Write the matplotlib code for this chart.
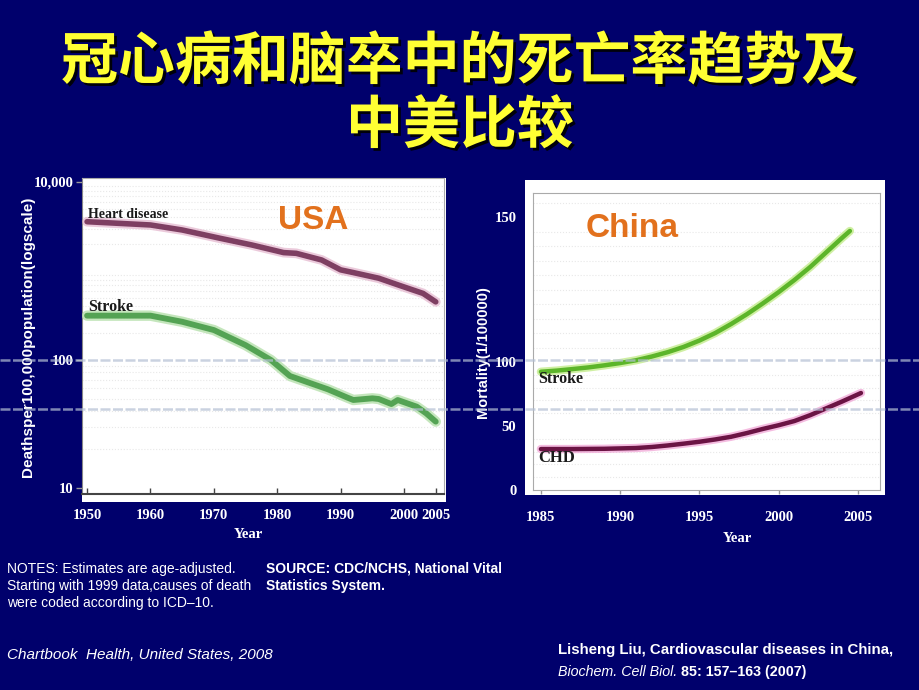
import numpy as np
import matplotlib
matplotlib.use("Agg")
import matplotlib.pyplot as plt
from matplotlib.patches import Rectangle
from matplotlib.lines import Line2D
import matplotlib.patheffects as pe

# ---------------- data ----------------
usa_heart_years = [1950, 1960, 1965, 1971, 1976, 1981, 1983, 1987, 1990, 1992, 1996, 1999, 2003, 2005]
usa_heart = [3580, 3290, 2890, 2330, 1960, 1610, 1580, 1330, 1030, 960, 830, 700, 560, 450]
usa_stroke_years = [1950, 1960, 1965, 1970, 1975, 1979, 1982, 1985, 1988, 1991, 1992, 1995, 1996,
                    1998, 1999, 2002, 2003.5, 2005]
usa_stroke = [315, 315, 269, 217, 147, 100, 75, 66.5, 59, 51, 48.7, 50.2, 49.6, 45.3, 48.7, 43.2, 38.3, 33]
usa_xticks = [1950, 1960, 1970, 1980, 1990, 2000, 2005]
usa_yticks = [10, 100, 10000]
usa_ytick_labels = ["10", "100", "10,000"]

cn_stroke_years = [1985, 1986, 1987, 1988, 1989, 1990, 1991, 1992, 1993, 1994, 1995, 1996, 1997,
                   1998, 1999, 2000, 2001, 2002, 2003, 2004, 2004.5]
cn_stroke = [92.4, 93.3, 94.5, 95.8, 97.4, 99.2, 100.6, 101.9, 103.4, 105.2, 107.4, 110, 113.1,
             116.5, 120.2, 124.1, 128.3, 132.8, 137.8, 142.8, 145.2]
cn_chd_years = [1985, 1987, 1989, 1991, 1992, 1993, 1994, 1995, 1996, 1997, 1998, 1999, 2000,
                2001, 2002, 2003, 2004, 2005.2]
cn_chd = [32.0, 32.0, 32.2, 32.8, 33.6, 34.8, 36.2, 37.7, 39.5, 41.6, 44.5, 47.7, 50.6,
          53.9, 58.5, 63.8, 69.1, 75.8]
cn_xticks = [1985, 1990, 1995, 2000, 2005]
cn_yticks = [0, 50, 100, 150]

BG = "#00006c"
WHITE = "white"
ORANGE = "#e2711d"
TXT = "#1a1a1a"

fig = plt.figure(figsize=(9.2, 6.9), dpi=100, facecolor=BG)
W, H = 920.0, 690.0


def fr(x0, y0, x1, y1):
    return [x0 / W, 1 - y1 / H, (x1 - x0) / W, (y1 - y0) / H]


# ---------------- title ----------------
title_kw = dict(ha="center", va="center", color="#ffff33", fontsize=41, fontweight="bold",
                family=["Noto Sans CJK SC", "DejaVu Sans"],
                path_effects=[pe.withSimplePatchShadow(offset=(2, -2), shadow_rgbFace="black", alpha=0.9)])
fig.text(0.5, 1 - 62 / H, "冠心病和脑卒中的死亡率趋势及", **title_kw)
fig.text(0.5, 1 - 126 / H, "中美比较", **title_kw)

# ---------------- USA panel ----------------
fig.patches.append(Rectangle((82 / W, 1 - 502 / H), 364 / W, 324 / H, transform=fig.transFigure,
                             facecolor="white", edgecolor="none", zorder=-1))
ax1 = fig.add_axes(fr(82, 178, 444, 494))
ax1.set_facecolor("white")


def usa_fwd(v):
    v = np.asarray(v, dtype=float)
    lv = np.log10(np.clip(v, 1e-3, None))
    return np.where(lv <= 2, (lv - 1) * 128.0, 128.0 + (lv - 2) * 89.0)


def usa_inv(t):
    t = np.asarray(t, dtype=float)
    return np.where(t <= 128, 10 ** (t / 128.0 + 1), 10 ** ((t - 128.0) / 89.0 + 2))


ax1.set_yscale("function", functions=(usa_fwd, usa_inv))
ax1.set_ylim(8.98, 11090)
ax1.set_xlim(1949.2, 2006.3)

minor_usa = [m * d for d in (10, 100, 1000) for m in range(2, 10)]
ax1.yaxis.set_minor_locator(matplotlib.ticker.FixedLocator(minor_usa))
ax1.grid(True, which="minor", axis="y", color="#e8e8e8", linestyle=":", linewidth=0.8)
ax1.set_axisbelow(True)

line_kw = dict(solid_capstyle="round", solid_joinstyle="round", zorder=3)
for lw, col, a in [(7, "#e3b4cc", 0.7), (4, "#7e3f62", 1)]:
    ax1.plot(usa_heart_years, usa_heart, color=col, lw=lw, alpha=a, **line_kw)
for lw, col, a in [(7.5, "#b6e0ac", 0.8), (4.2, "#54a354", 1)]:
    ax1.plot(usa_stroke_years, usa_stroke, color=col, lw=lw, alpha=a, **line_kw)

ax1.set_yticks(usa_yticks)
ax1.set_yticklabels(usa_ytick_labels)
ax1.set_xticks(usa_xticks)
ax1.set_xticklabels([str(x) for x in usa_xticks])
ax1.tick_params(axis="y", which="major", length=4, width=1, color="#999999", pad=2, colors=WHITE)
ax1.tick_params(axis="y", which="minor", length=0)
ax1.tick_params(axis="x", length=4, width=1, direction="in", color="#444444", pad=11, colors=WHITE)
for lab in ax1.get_xticklabels() + ax1.get_yticklabels():
    lab.set_family("Liberation Serif")
    lab.set_fontweight("bold")
    lab.set_fontsize(10.5)
    lab.set_color(WHITE)
for s in ["top", "right"]:
    ax1.spines[s].set_color("#aaaaaa")
ax1.spines["left"].set_color("#888888")
ax1.spines["bottom"].set_color("#444444")
ax1.spines["bottom"].set_linewidth(1.5)

ax1.text(0.0166, 0.886, "Heart disease", transform=ax1.transAxes, ha="left", va="center",
         family="Liberation Serif", fontweight="bold", fontsize=10, color=TXT, zorder=5)
ax1.text(0.0166, 0.592, "Stroke", transform=ax1.transAxes, ha="left", va="center",
         family="Liberation Serif", fontweight="bold", fontsize=11.5, color=TXT, zorder=5)
ax1.text(0.638, 0.864, "USA", transform=ax1.transAxes, ha="center", va="center",
         family="Liberation Sans", fontweight="bold", fontsize=24, color=ORANGE, zorder=5)

fig.text(248 / W, 1 - 535 / H, "Year", ha="center", va="center", family="Liberation Serif",
         fontweight="bold", fontsize=10.5, color=WHITE)
fig.text(28 / W, 1 - 337 / H, "Deathsper100,000population(logscale)", rotation=90, ha="center",
         va="center", family="Liberation Sans", fontweight="bold", fontsize=11, color=WHITE)

# ---------------- China panel ----------------
fig.patches.append(Rectangle((525 / W, 1 - 495 / H), 360 / W, 315 / H, transform=fig.transFigure,
                             facecolor="white", edgecolor="none", zorder=-1))
ax2 = fig.add_axes(fr(533, 193, 880, 490))
ax2.set_facecolor("white")


def cn_fwd(v):
    v = np.asarray(v, dtype=float)
    return np.where(v <= 100, v * 1.28, 128.0 + (v - 100) * 2.9)


def cn_inv(t):
    t = np.asarray(t, dtype=float)
    return np.where(t <= 128, t / 1.28, 100 + (t - 128.0) / 2.9)


ax2.set_yscale("function", functions=(cn_fwd, cn_inv))
ax2.set_ylim(0, 158.3)
ax2.set_xlim(1984.5, 2006.4)
minor_cn = list(range(10, 100, 10)) + list(range(105, 160, 5))
ax2.yaxis.set_minor_locator(matplotlib.ticker.FixedLocator(minor_cn))
ax2.grid(True, which="minor", axis="y", color="#e8e8e8", linestyle=":", linewidth=0.8)
ax2.set_axisbelow(True)

for lw, col, a in [(6, "#c4ec8c", 0.8), (3.2, "#5cb52a", 1)]:
    ax2.plot(cn_stroke_years, cn_stroke, color=col, lw=lw, alpha=a, **line_kw)
for lw, col, a in [(6, "#f0a0d4", 0.7), (3.2, "#6b1444", 1)]:
    ax2.plot(cn_chd_years, cn_chd, color=col, lw=lw, alpha=a, **line_kw)

ax2.set_yticks(cn_yticks)
ax2.set_yticklabels([str(v) for v in cn_yticks])
ax2.set_xticks(cn_xticks)
ax2.set_xticklabels([str(x) for x in cn_xticks])
ax2.tick_params(axis="y", which="major", length=0, pad=12, colors=WHITE)
ax2.tick_params(axis="y", which="minor", length=0)
ax2.tick_params(axis="x", length=3, width=1, direction="out", color="#999999", pad=12, colors=WHITE)
for lab in ax2.get_xticklabels() + ax2.get_yticklabels():
    lab.set_family("Liberation Serif")
    lab.set_fontweight("bold")
    lab.set_fontsize(10.5)
    lab.set_color(WHITE)
for s in ax2.spines.values():
    s.set_color("#aaaaaa")

ax2.text(0.285, 0.882, "China", transform=ax2.transAxes, ha="center", va="center",
         family="Liberation Sans", fontweight="bold", fontsize=24, color=ORANGE, zorder=5)
ax2.text(0.0144, 0.374, "Stroke", transform=ax2.transAxes, ha="left", va="center",
         family="Liberation Serif", fontweight="bold", fontsize=11.5, color=TXT, zorder=5)
ax2.text(0.0144, 0.108, "CHD", transform=ax2.transAxes, ha="left", va="center",
         family="Liberation Serif", fontweight="bold", fontsize=12, color=TXT, zorder=5)

fig.text(737 / W, 1 - 539 / H, "Year", ha="center", va="center", family="Liberation Serif",
         fontweight="bold", fontsize=10.5, color=WHITE)
fig.text(483 / W, 1 - 352 / H, "Mortality(1/100000)", rotation=90, ha="center", va="center",
         family="Liberation Sans", fontweight="bold", fontsize=10.5, color=WHITE)

# ---------------- overlay: slide lines and notes ----------------
ov = fig.add_axes([0, 0, 1, 1], zorder=10)
ov.set_xlim(0, 1)
ov.set_ylim(0, 1)
ov.axis("off")
for yp in (360, 409):
    ov.add_line(Line2D([0, 1], [1 - yp / H, 1 - yp / H], color="#b4c0d4", lw=1.8, alpha=0.7,
                       linestyle=(0, (4, 1))))

note_kw = dict(family="Liberation Sans", fontsize=10, color=WHITE, ha="left", va="center",
               linespacing=1.3)
ov.text(7 / W, 1 - 586 / H, "NOTES: Estimates are age-adjusted.\nStarting with 1999 data,causes of death\n"
        "were coded according to ICD\u201310.", **note_kw)
ov.text(266 / W, 1 - 577.5 / H, "SOURCE: CDC/NCHS, National Vital\nStatistics System.",
        fontweight="bold", **note_kw)
ov.text(7 / W, 1 - 655 / H, "Chartbook  Health, United States, 2008", style="italic",
        family="Liberation Sans", fontsize=11, color=WHITE, ha="left", va="center")
ov.text(558 / W, 1 - 650 / H, "Lisheng Liu, Cardiovascular diseases in China,", fontweight="bold",
        family="Liberation Sans", fontsize=10.8, color=WHITE, ha="left", va="center")
t1 = ov.text(558 / W, 1 - 672 / H, "Biochem. Cell Biol.", style="italic",
             family="Liberation Sans", fontsize=10.3, color=WHITE, ha="left", va="center")
ov.annotate(" 85: 157\u2013163 (2007)", xy=(1, 0.5), xycoords=t1, ha="left", va="center",
            fontweight="bold", family="Liberation Sans", fontsize=10.3, color=WHITE)

fig.savefig("out.png", dpi=100, facecolor=BG)
